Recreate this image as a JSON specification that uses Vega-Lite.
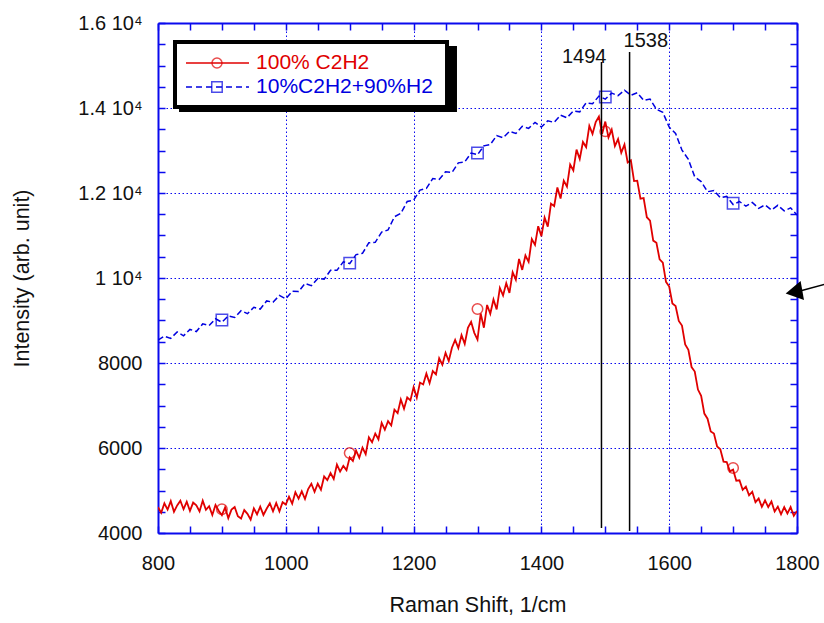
{
  "$schema": "https://vega.github.io/schema/vega-lite/v6.json",
  "width": 639,
  "height": 510,
  "autosize": "none",
  "padding": {"left": 158, "top": 23, "right": 27, "bottom": 90},
  "background": "white",
  "config": {
    "font": "Liberation Sans",
    "view": {"stroke": null},
    "axis": {
      "domainColor": "#0a0aee",
      "domainWidth": 2,
      "tickColor": "#0a0aee",
      "tickWidth": 1.5,
      "tickSize": -7,
      "labelFont": "Liberation Sans",
      "labelFontSize": 20,
      "labelColor": "#111111",
      "titleFont": "Liberation Sans",
      "titleFontSize": 21.5,
      "titleFontWeight": "normal",
      "titleColor": "#111111",
      "gridColor": "#0a0aee",
      "gridDash": [1.5, 2.5],
      "gridWidth": 1,
      "labelFlush": false,
      "labelOverlap": false
    }
  },
  "datasets": {
    "pure": [
      {"x": 800, "y": 4610}, {"x": 805, "y": 4475}, {"x": 810, "y": 4700}, {"x": 815, "y": 4550}, {"x": 820, "y": 4750},
      {"x": 825, "y": 4500}, {"x": 830, "y": 4650}, {"x": 835, "y": 4760}, {"x": 840, "y": 4560}, {"x": 845, "y": 4735},
      {"x": 850, "y": 4520}, {"x": 855, "y": 4715}, {"x": 860, "y": 4650}, {"x": 865, "y": 4510}, {"x": 870, "y": 4760},
      {"x": 875, "y": 4545}, {"x": 880, "y": 4630}, {"x": 885, "y": 4425}, {"x": 890, "y": 4660}, {"x": 895, "y": 4525},
      {"x": 900, "y": 4420}, {"x": 905, "y": 4600}, {"x": 910, "y": 4350}, {"x": 915, "y": 4550}, {"x": 920, "y": 4610},
      {"x": 925, "y": 4395}, {"x": 930, "y": 4340}, {"x": 935, "y": 4540}, {"x": 940, "y": 4450}, {"x": 945, "y": 4315},
      {"x": 950, "y": 4580}, {"x": 955, "y": 4440}, {"x": 960, "y": 4620}, {"x": 965, "y": 4425}, {"x": 970, "y": 4570},
      {"x": 975, "y": 4700}, {"x": 980, "y": 4510}, {"x": 985, "y": 4705}, {"x": 990, "y": 4510}, {"x": 995, "y": 4725},
      {"x": 1000, "y": 4670}, {"x": 1005, "y": 4855}, {"x": 1010, "y": 4690}, {"x": 1015, "y": 4960}, {"x": 1020, "y": 4810},
      {"x": 1025, "y": 4980}, {"x": 1030, "y": 4800}, {"x": 1035, "y": 5035}, {"x": 1040, "y": 5160}, {"x": 1045, "y": 4970},
      {"x": 1050, "y": 5160}, {"x": 1055, "y": 5020}, {"x": 1060, "y": 5330}, {"x": 1065, "y": 5245}, {"x": 1070, "y": 5410},
      {"x": 1075, "y": 5270}, {"x": 1080, "y": 5610}, {"x": 1085, "y": 5445}, {"x": 1090, "y": 5580}, {"x": 1095, "y": 5480},
      {"x": 1100, "y": 5780}, {"x": 1105, "y": 5695}, {"x": 1110, "y": 5940}, {"x": 1115, "y": 5770}, {"x": 1120, "y": 6010},
      {"x": 1125, "y": 5855}, {"x": 1130, "y": 6250}, {"x": 1135, "y": 6135}, {"x": 1140, "y": 6340}, {"x": 1145, "y": 6205},
      {"x": 1150, "y": 6590}, {"x": 1155, "y": 6430}, {"x": 1160, "y": 6630}, {"x": 1165, "y": 6530}, {"x": 1170, "y": 6900},
      {"x": 1175, "y": 6820}, {"x": 1180, "y": 7140}, {"x": 1185, "y": 6925}, {"x": 1190, "y": 7190}, {"x": 1195, "y": 7120},
      {"x": 1200, "y": 7430}, {"x": 1205, "y": 7185}, {"x": 1210, "y": 7540}, {"x": 1215, "y": 7495}, {"x": 1220, "y": 7750},
      {"x": 1225, "y": 7525}, {"x": 1230, "y": 7810}, {"x": 1235, "y": 7730}, {"x": 1240, "y": 8110}, {"x": 1245, "y": 7960},
      {"x": 1250, "y": 8240}, {"x": 1255, "y": 8045}, {"x": 1260, "y": 8360}, {"x": 1265, "y": 8545}, {"x": 1270, "y": 8350},
      {"x": 1275, "y": 8655}, {"x": 1280, "y": 8450}, {"x": 1285, "y": 8830}, {"x": 1290, "y": 8970}, {"x": 1295, "y": 8710},
      {"x": 1300, "y": 8550}, {"x": 1305, "y": 9165}, {"x": 1310, "y": 8830}, {"x": 1315, "y": 9365}, {"x": 1320, "y": 9160},
      {"x": 1325, "y": 9495}, {"x": 1330, "y": 9260}, {"x": 1335, "y": 9765}, {"x": 1340, "y": 9590}, {"x": 1345, "y": 9880},
      {"x": 1350, "y": 9650}, {"x": 1355, "y": 10135}, {"x": 1360, "y": 9960}, {"x": 1365, "y": 10450}, {"x": 1370, "y": 10190},
      {"x": 1375, "y": 10530}, {"x": 1380, "y": 10380}, {"x": 1385, "y": 10915}, {"x": 1390, "y": 10780}, {"x": 1395, "y": 11220},
      {"x": 1400, "y": 10980}, {"x": 1405, "y": 11420}, {"x": 1410, "y": 11210}, {"x": 1415, "y": 11750}, {"x": 1420, "y": 11690},
      {"x": 1425, "y": 12130}, {"x": 1430, "y": 11870}, {"x": 1435, "y": 12290}, {"x": 1440, "y": 12150}, {"x": 1445, "y": 12670},
      {"x": 1450, "y": 12530}, {"x": 1455, "y": 13020}, {"x": 1460, "y": 12800}, {"x": 1465, "y": 13200}, {"x": 1470, "y": 13080},
      {"x": 1475, "y": 13580}, {"x": 1480, "y": 13390}, {"x": 1485, "y": 13670}, {"x": 1490, "y": 13800}, {"x": 1495, "y": 13390},
      {"x": 1500, "y": 13680}, {"x": 1505, "y": 13310}, {"x": 1510, "y": 13490}, {"x": 1515, "y": 13105}, {"x": 1520, "y": 13270},
      {"x": 1525, "y": 12950}, {"x": 1530, "y": 13140}, {"x": 1535, "y": 12720}, {"x": 1540, "y": 12770}, {"x": 1545, "y": 12280},
      {"x": 1550, "y": 12290}, {"x": 1555, "y": 11865}, {"x": 1560, "y": 11880}, {"x": 1565, "y": 11430}, {"x": 1570, "y": 11350},
      {"x": 1575, "y": 10880}, {"x": 1580, "y": 10830}, {"x": 1585, "y": 10440}, {"x": 1590, "y": 10360}, {"x": 1595, "y": 9910},
      {"x": 1600, "y": 9800}, {"x": 1605, "y": 9400}, {"x": 1610, "y": 9340}, {"x": 1615, "y": 8990}, {"x": 1620, "y": 8880},
      {"x": 1625, "y": 8435}, {"x": 1630, "y": 8310}, {"x": 1635, "y": 7905}, {"x": 1640, "y": 7800}, {"x": 1645, "y": 7375},
      {"x": 1650, "y": 7230}, {"x": 1655, "y": 6810}, {"x": 1660, "y": 6690}, {"x": 1665, "y": 6390}, {"x": 1670, "y": 6340},
      {"x": 1675, "y": 6035}, {"x": 1680, "y": 5970}, {"x": 1685, "y": 5680}, {"x": 1690, "y": 5670}, {"x": 1695, "y": 5450},
      {"x": 1700, "y": 5490}, {"x": 1705, "y": 5230}, {"x": 1710, "y": 5240}, {"x": 1715, "y": 5015}, {"x": 1720, "y": 5090},
      {"x": 1725, "y": 4885}, {"x": 1730, "y": 4970}, {"x": 1735, "y": 4725}, {"x": 1740, "y": 4810}, {"x": 1745, "y": 4615},
      {"x": 1750, "y": 4770}, {"x": 1755, "y": 4610}, {"x": 1760, "y": 4740}, {"x": 1765, "y": 4505}, {"x": 1770, "y": 4620},
      {"x": 1775, "y": 4440}, {"x": 1780, "y": 4610}, {"x": 1785, "y": 4460}, {"x": 1790, "y": 4610}, {"x": 1795, "y": 4405},
      {"x": 1800, "y": 4520}
    ],
    "mix": [
      {"x": 800, "y": 8540}, {"x": 810, "y": 8630}, {"x": 820, "y": 8580}, {"x": 830, "y": 8730}, {"x": 840, "y": 8640},
      {"x": 850, "y": 8790}, {"x": 860, "y": 8740}, {"x": 870, "y": 8920}, {"x": 880, "y": 8880}, {"x": 890, "y": 9040},
      {"x": 900, "y": 8960}, {"x": 910, "y": 9110}, {"x": 920, "y": 9070}, {"x": 930, "y": 9230}, {"x": 940, "y": 9160},
      {"x": 950, "y": 9310}, {"x": 960, "y": 9270}, {"x": 970, "y": 9460}, {"x": 980, "y": 9430}, {"x": 990, "y": 9590},
      {"x": 1000, "y": 9510}, {"x": 1010, "y": 9690}, {"x": 1020, "y": 9680}, {"x": 1030, "y": 9870}, {"x": 1040, "y": 9820},
      {"x": 1050, "y": 9990}, {"x": 1060, "y": 9970}, {"x": 1070, "y": 10180}, {"x": 1080, "y": 10180}, {"x": 1090, "y": 10380},
      {"x": 1100, "y": 10340}, {"x": 1110, "y": 10550}, {"x": 1120, "y": 10580}, {"x": 1130, "y": 10830}, {"x": 1140, "y": 10840},
      {"x": 1150, "y": 11080}, {"x": 1160, "y": 11130}, {"x": 1170, "y": 11440}, {"x": 1180, "y": 11520}, {"x": 1190, "y": 11800},
      {"x": 1200, "y": 11830}, {"x": 1210, "y": 12070}, {"x": 1220, "y": 12110}, {"x": 1230, "y": 12340}, {"x": 1240, "y": 12320},
      {"x": 1250, "y": 12500}, {"x": 1260, "y": 12480}, {"x": 1270, "y": 12710}, {"x": 1280, "y": 12730}, {"x": 1290, "y": 12940},
      {"x": 1300, "y": 12900}, {"x": 1310, "y": 13110}, {"x": 1320, "y": 13140}, {"x": 1330, "y": 13350}, {"x": 1340, "y": 13300},
      {"x": 1350, "y": 13450}, {"x": 1360, "y": 13400}, {"x": 1370, "y": 13570}, {"x": 1380, "y": 13520}, {"x": 1390, "y": 13660},
      {"x": 1400, "y": 13550}, {"x": 1410, "y": 13700}, {"x": 1420, "y": 13660}, {"x": 1430, "y": 13830}, {"x": 1440, "y": 13770},
      {"x": 1450, "y": 13930}, {"x": 1460, "y": 13910}, {"x": 1470, "y": 14120}, {"x": 1480, "y": 14100}, {"x": 1490, "y": 14280},
      {"x": 1500, "y": 14210}, {"x": 1510, "y": 14350}, {"x": 1520, "y": 14290}, {"x": 1530, "y": 14420}, {"x": 1540, "y": 14300},
      {"x": 1550, "y": 14360}, {"x": 1560, "y": 14180}, {"x": 1570, "y": 14210}, {"x": 1580, "y": 13970}, {"x": 1590, "y": 13900},
      {"x": 1600, "y": 13550}, {"x": 1610, "y": 13400}, {"x": 1620, "y": 13010}, {"x": 1630, "y": 12790}, {"x": 1640, "y": 12380},
      {"x": 1650, "y": 12270}, {"x": 1660, "y": 12030}, {"x": 1670, "y": 12060}, {"x": 1680, "y": 11890}, {"x": 1690, "y": 11920},
      {"x": 1700, "y": 11730}, {"x": 1710, "y": 11800}, {"x": 1720, "y": 11690}, {"x": 1730, "y": 11780}, {"x": 1740, "y": 11640},
      {"x": 1750, "y": 11720}, {"x": 1760, "y": 11600}, {"x": 1770, "y": 11710}, {"x": 1780, "y": 11580}, {"x": 1790, "y": 11650},
      {"x": 1800, "y": 11480}
    ],
    "pureMarkers": [
      {"x": 900, "y": 4560}, {"x": 1100, "y": 5880}, {"x": 1300, "y": 9270}, {"x": 1500, "y": 13450}, {"x": 1700, "y": 5530}
    ],
    "mixMarkers": [
      {"x": 900, "y": 9010}, {"x": 1100, "y": 10350}, {"x": 1300, "y": 12940}, {"x": 1500, "y": 14260}, {"x": 1700, "y": 11760}
    ],
    "peaks": [
      {"peak": 1494, "low": 4118, "high": 15080, "label": "1494"},
      {"peak": 1538, "low": 4050, "high": 15318, "label": "1538"}
    ]
  },
  "layer": [
    {
      "data": {"name": "pure"},
      "mark": {"type": "line", "color": "#e00000", "strokeWidth": 1.8, "clip": true},
      "encoding": {
        "x": {"field": "x", "type": "quantitative", "scale": {"domain": [800, 1800], "nice": false, "zero": false},
          "axis": {"orient": "bottom", "values": [800, 850, 900, 950, 1000, 1050, 1100, 1150, 1200, 1250, 1300, 1350, 1400, 1450, 1500, 1550, 1600, 1650, 1700, 1750, 1800],
            "labelExpr": "datum.value % 200 === 0 ? format(datum.value, 'd') : ''",
            "grid": true,
            "gridOpacity": {"condition": {"test": "datum.value % 200 === 0 && datum.value > 800 && datum.value < 1800", "value": 1}, "value": 0},
            "labelPadding": 27,
            "title": "Raman Shift, 1/cm", "titleY": 72, "titleBaseline": "middle"}},
        "y": {"field": "y", "type": "quantitative", "scale": {"domain": [4000, 16000], "nice": false, "zero": false},
          "axis": {"orient": "left", "values": [4000, 4500, 5000, 5500, 6000, 6500, 7000, 7500, 8000, 8500, 9000, 9500, 10000, 10500, 11000, 11500, 12000, 12500, 13000, 13500, 14000, 14500, 15000, 15500, 16000],
            "labelExpr": "datum.value % 2000 !== 0 ? '' : (datum.value >= 10000 ? format(datum.value / 10000, '.1~f') + ' 10⁴' : format(datum.value, 'd'))",
            "grid": true,
            "gridOpacity": {"condition": {"test": "datum.value % 2000 === 0 && datum.value > 4000 && datum.value < 16000", "value": 1}, "value": 0},
            "labelPadding": 23,
            "title": "Intensity (arb. unit)", "titleX": -136, "titleY": 255, "titleBaseline": "middle"}}
      }
    },
    {
      "data": {"name": "mix"},
      "mark": {"type": "line", "color": "#0000e0", "strokeWidth": 1.5, "strokeDash": [6, 3], "clip": true},
      "encoding": {
        "x": {"field": "x", "type": "quantitative", "scale": {"domain": [800, 1800], "nice": false, "zero": false},
          "axis": {"orient": "top", "values": [800, 850, 900, 950, 1000, 1050, 1100, 1150, 1200, 1250, 1300, 1350, 1400, 1450, 1500, 1550, 1600, 1650, 1700, 1750, 1800],
            "labels": false, "grid": false, "title": null}},
        "y": {"field": "y", "type": "quantitative", "scale": {"domain": [4000, 16000], "nice": false, "zero": false},
          "axis": {"orient": "right", "values": [4000, 4500, 5000, 5500, 6000, 6500, 7000, 7500, 8000, 8500, 9000, 9500, 10000, 10500, 11000, 11500, 12000, 12500, 13000, 13500, 14000, 14500, 15000, 15500, 16000],
            "labels": false, "grid": false, "title": null}}
      }
    },
    {
      "data": {"name": "pureMarkers"},
      "mark": {"type": "point", "shape": "circle", "filled": false, "color": "#e00000", "size": 110, "strokeWidth": 1.5},
      "encoding": {
        "x": {"field": "x", "type": "quantitative", "scale": {"domain": [800, 1800], "nice": false, "zero": false}, "axis": null},
        "y": {"field": "y", "type": "quantitative", "scale": {"domain": [4000, 16000], "nice": false, "zero": false}, "axis": null}
      }
    },
    {
      "data": {"name": "mixMarkers"},
      "mark": {"type": "point", "shape": "square", "filled": false, "color": "#0000e0", "size": 130, "strokeWidth": 1.5},
      "encoding": {
        "x": {"field": "x", "type": "quantitative", "scale": {"domain": [800, 1800], "nice": false, "zero": false}, "axis": null},
        "y": {"field": "y", "type": "quantitative", "scale": {"domain": [4000, 16000], "nice": false, "zero": false}, "axis": null}
      }
    },
    {
      "data": {"name": "peaks"},
      "mark": {"type": "rule", "color": "#000000", "strokeWidth": 1.5},
      "encoding": {
        "x": {"field": "peak", "type": "quantitative", "scale": {"domain": [800, 1800], "nice": false, "zero": false}, "axis": null},
        "y": {"field": "low", "type": "quantitative", "scale": {"domain": [4000, 16000], "nice": false, "zero": false}, "axis": null},
        "y2": {"field": "high"}
      }
    },
    {
      "data": {"name": "peaks"},
      "transform": [{"filter": "datum.peak === 1494"}],
      "mark": {"type": "text", "align": "right", "baseline": "alphabetic", "fontSize": 20, "dx": 5, "color": "#111111", "font": "Liberation Sans"},
      "encoding": {
        "x": {"field": "peak", "type": "quantitative", "scale": {"domain": [800, 1800], "nice": false, "zero": false}, "axis": null},
        "y": {"datum": 15059, "type": "quantitative", "scale": {"domain": [4000, 16000], "nice": false, "zero": false}, "axis": null},
        "text": {"field": "label"}
      }
    },
    {
      "data": {"name": "peaks"},
      "transform": [{"filter": "datum.peak === 1538"}],
      "mark": {"type": "text", "align": "left", "baseline": "alphabetic", "fontSize": 20, "dx": -6, "color": "#111111", "font": "Liberation Sans"},
      "encoding": {
        "x": {"field": "peak", "type": "quantitative", "scale": {"domain": [800, 1800], "nice": false, "zero": false}, "axis": null},
        "y": {"datum": 15435, "type": "quantitative", "scale": {"domain": [4000, 16000], "nice": false, "zero": false}, "axis": null},
        "text": {"field": "label"}
      }
    },
    {
      "data": {"values": [{"part": "legend shadow"}]},
      "mark": {"type": "rect", "color": "#000000"},
      "encoding": {
        "x": {"datum": 832.9, "type": "quantitative", "scale": {"domain": [800, 1800], "nice": false, "zero": false}, "axis": null},
        "x2": {"datum": 1267.9},
        "y": {"datum": 15459, "type": "quantitative", "scale": {"domain": [4000, 16000], "nice": false, "zero": false}, "axis": null},
        "y2": {"datum": 13906}
      }
    },
    {
      "data": {"values": [{"part": "legend box"}]},
      "mark": {"type": "rect", "fill": "#ffffff", "stroke": "#000000", "strokeWidth": 4},
      "encoding": {
        "x": {"datum": 826.6, "type": "quantitative", "scale": {"domain": [800, 1800], "nice": false, "zero": false}, "axis": null},
        "x2": {"datum": 1252.3},
        "y": {"datum": 15553, "type": "quantitative", "scale": {"domain": [4000, 16000], "nice": false, "zero": false}, "axis": null},
        "y2": {"datum": 14024}
      }
    },
    {
      "data": {"values": [{"part": "legend red line"}]},
      "mark": {"type": "rule", "color": "#e00000", "strokeWidth": 1.5},
      "encoding": {
        "x": {"datum": 843.8, "type": "quantitative", "scale": {"domain": [800, 1800], "nice": false, "zero": false}, "axis": null},
        "x2": {"datum": 942.4},
        "y": {"datum": 15059, "type": "quantitative", "scale": {"domain": [4000, 16000], "nice": false, "zero": false}, "axis": null}
      }
    },
    {
      "data": {"values": [{"part": "legend red marker"}]},
      "mark": {"type": "point", "shape": "circle", "filled": false, "color": "#e00000", "size": 100, "strokeWidth": 1.5},
      "encoding": {
        "x": {"datum": 892.3, "type": "quantitative", "scale": {"domain": [800, 1800], "nice": false, "zero": false}, "axis": null},
        "y": {"datum": 15059, "type": "quantitative", "scale": {"domain": [4000, 16000], "nice": false, "zero": false}, "axis": null}
      }
    },
    {
      "data": {"values": [{"label": "100% C2H2"}]},
      "mark": {"type": "text", "align": "left", "baseline": "middle", "fontSize": 21, "color": "#e00000", "font": "Liberation Sans"},
      "encoding": {
        "x": {"datum": 953.4, "type": "quantitative", "scale": {"domain": [800, 1800], "nice": false, "zero": false}, "axis": null},
        "y": {"datum": 15059, "type": "quantitative", "scale": {"domain": [4000, 16000], "nice": false, "zero": false}, "axis": null},
        "text": {"field": "label"}
      }
    },
    {
      "data": {"values": [{"part": "legend blue line"}]},
      "mark": {"type": "rule", "color": "#0000e0", "strokeWidth": 1.5, "strokeDash": [6, 4]},
      "encoding": {
        "x": {"datum": 843.8, "type": "quantitative", "scale": {"domain": [800, 1800], "nice": false, "zero": false}, "axis": null},
        "x2": {"datum": 942.4},
        "y": {"datum": 14494, "type": "quantitative", "scale": {"domain": [4000, 16000], "nice": false, "zero": false}, "axis": null}
      }
    },
    {
      "data": {"values": [{"part": "legend blue marker"}]},
      "mark": {"type": "point", "shape": "square", "filled": false, "color": "#0000e0", "size": 110, "strokeWidth": 1.5},
      "encoding": {
        "x": {"datum": 892.3, "type": "quantitative", "scale": {"domain": [800, 1800], "nice": false, "zero": false}, "axis": null},
        "y": {"datum": 14494, "type": "quantitative", "scale": {"domain": [4000, 16000], "nice": false, "zero": false}, "axis": null}
      }
    },
    {
      "data": {"values": [{"label": "10%C2H2+90%H2"}]},
      "mark": {"type": "text", "align": "left", "baseline": "middle", "fontSize": 21, "color": "#0000e0", "font": "Liberation Sans"},
      "encoding": {
        "x": {"datum": 953.4, "type": "quantitative", "scale": {"domain": [800, 1800], "nice": false, "zero": false}, "axis": null},
        "y": {"datum": 14494, "type": "quantitative", "scale": {"domain": [4000, 16000], "nice": false, "zero": false}, "axis": null},
        "text": {"field": "label"}
      }
    },
    {
      "data": {"values": [{"part": "arrow shaft"}]},
      "mark": {"type": "rule", "color": "#000000", "strokeWidth": 1.5, "clip": false},
      "encoding": {
        "x": {"datum": 1804.7, "type": "quantitative", "scale": {"domain": [800, 1800], "nice": false, "zero": false}, "axis": null},
        "x2": {"datum": 1843},
        "y": {"datum": 9694, "type": "quantitative", "scale": {"domain": [4000, 16000], "nice": false, "zero": false}, "axis": null},
        "y2": {"datum": 9850}
      }
    },
    {
      "data": {"values": [{"part": "arrow head"}]},
      "mark": {"type": "point", "shape": "triangle-left", "filled": true, "color": "#000000", "size": 380, "angle": -10, "opacity": 1, "clip": false},
      "encoding": {
        "x": {"datum": 1795.3, "type": "quantitative", "scale": {"domain": [800, 1800], "nice": false, "zero": false}, "axis": null},
        "y": {"datum": 9671, "type": "quantitative", "scale": {"domain": [4000, 16000], "nice": false, "zero": false}, "axis": null}
      }
    }
  ],
  "resolve": {"axis": {"x": "independent", "y": "independent"}}
}
